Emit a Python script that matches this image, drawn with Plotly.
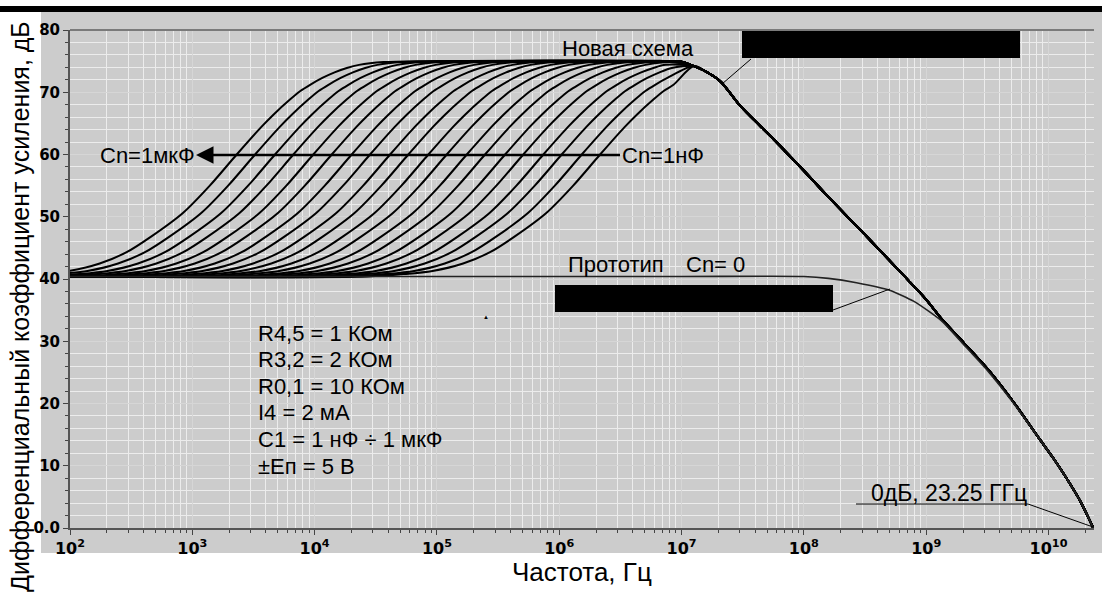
import plotly.graph_objects as go

# ---- data ----
# frequencies are kept as log10(Hz)
# new scheme, Cn = 1 uF ... 1 nF: where each curve crosses 60 dB
cross_60db = [3.363, 3.513, 3.676, 3.826, 3.989, 4.140, 4.303, 4.453, 4.617, 4.766,
              4.930, 5.080, 5.244, 5.393, 5.557, 5.706, 5.870, 6.020, 6.184, 6.334]
# rising edge (same for all curves), offset in decades from the 60 dB point
rise_offset = [-1.9, -1.6, -1.37, -1.12, -0.9, -0.7, -0.44, -0.22, 0.0, 0.2, 0.3,
               0.44, 0.52, 0.6, 0.7, 0.8, 0.9, 1.0, 1.2, 1.5]
rise_db = [40.4, 40.8, 41.3, 42.5, 44.3, 46.8, 50.6, 55.0, 60.0, 64.4, 66.4,
           68.9, 70.2, 71.2, 72.3, 73.2, 73.9, 74.4, 74.85, 75.0]
base_db = 40.4

# common high frequency roll-off of the new scheme
roll_logf = [6.9, 7.0, 7.1, 7.2, 7.32, 7.48, 7.75, 8.0, 8.19, 8.5, 8.8, 9.0, 9.13,
             9.3, 9.5, 9.7, 9.93, 10.04, 10.15, 10.26, 10.366]
roll_db = [75.0, 74.9, 74.2, 73.3, 71.7, 67.8, 62.5, 57.4, 53.4, 47.1, 40.9, 36.7, 33.5,
           29.9, 25.6, 20.6, 14.2, 11.2, 7.9, 4.3, 0.0]

# prototype, Cn = 0
proto_logf = [2.0, 7.0, 8.0, 8.2, 8.43, 8.7, 8.9, 9.13, 9.3, 9.5, 9.7, 9.93,
              10.04, 10.15, 10.26, 10.366]
proto_db = [40.4, 40.4, 40.4, 40.1, 39.4, 38.2, 36.4, 33.2, 29.6, 25.3, 20.4, 14.2,
            11.2, 7.9, 4.3, 0.0]

x_ticks = [2, 3, 4, 5, 6, 7, 8, 9, 10]
y_ticks = [0, 10, 20, 30, 40, 50, 60, 70, 80]
y_ticktext = ["0.0", "10", "20", "30", "40", "50", "60", "70", "80"]

params = ["R4,5 = 1 КОм", "R3,2 = 2 КОм", "R0,1 = 10 КОм", "I4 = 2 мА",
          "C1 = 1 нФ ÷ 1 мкФ", "±Eп = 5 В"]

W, H = 1102, 599
L, R, T, B = 70, 8, 30, 71


def px(x):
    return (x - L) / (W - L - R)


def py(y):
    return (H - B - y) / (H - T - B)


fig = go.Figure()

for c in cross_60db:
    xs, ys = [], []
    if c + rise_offset[0] > 2:
        xs.append(10 ** 2)
        ys.append(base_db)
    last = 2
    for d, g in zip(rise_offset, rise_db):
        if c + d <= 6.95:
            xs.append(10 ** (c + d))
            ys.append(g)
            last = c + d
    for lf, g in zip(roll_logf, roll_db):
        if lf >= max(6.9, last + 0.15):
            xs.append(10 ** lf)
            ys.append(g)
    fig.add_trace(go.Scatter(x=xs, y=ys, mode="lines",
                             line=dict(color="black", width=2, shape="spline", smoothing=0.8),
                             hoverinfo="skip"))

fig.add_trace(go.Scatter(x=[10 ** v for v in proto_logf], y=proto_db, mode="lines",
                         line=dict(color="#222", width=1.6, shape="spline", smoothing=0.6),
                         hoverinfo="skip"))

txt = dict(family="Liberation Sans, Arial, sans-serif", size=22, color="black")

ann = []


def label(text, x, y, size=22, anchor="left"):
    f = dict(txt)
    f["size"] = size
    ann.append(dict(text=text, x=px(x), y=py(y), xref="paper", yref="paper",
                    xanchor=anchor, yanchor="middle", showarrow=False, font=f))


label("Новая схема", 560, 48)
label("Прототип", 566, 264)
label("Cn= 0", 684, 264)
label("Cn=1мкФ", 98, 155)
label("0дБ, 23.25 ГГц", 869, 493, size=23)
for i, p in enumerate(params):
    label(p, 256, 333 + i * 26.6, size=22)
label("▲", 486, 317, size=6, anchor="center")

# arrow from Cn=1нФ to Cn=1мкФ
ann.append(dict(text="Cn=1нФ", x=px(196), y=py(155), xref="paper", yref="paper",
                ax=620 - 196, ay=0, xanchor="left", yanchor="middle",
                showarrow=True, arrowhead=2, arrowsize=1.4, arrowwidth=2.5,
                arrowcolor="black", font=txt))

# axis titles
ann.append(dict(text="Дифференциальный коэффициент усиления, дБ", textangle=-90,
                x=px(20), y=py(307), xref="paper", yref="paper",
                xanchor="center", yanchor="middle", showarrow=False,
                font=dict(family="Liberation Sans, Arial, sans-serif", size=25, color="black")))
ann.append(dict(text="Частота, Гц", x=px(582), y=py(572), xref="paper", yref="paper",
                xanchor="center", yanchor="middle", showarrow=False,
                font=dict(family="Liberation Sans, Arial, sans-serif", size=26, color="black")))

shapes = [
    # grey frame round the plot
    dict(type="rect", xref="paper", yref="paper", x0=px(41), x1=px(W), y0=py(553), y1=py(12),
         fillcolor="#cccccc", line=dict(width=0), layer="below"),
    # black bar at the top
    dict(type="rect", xref="paper", yref="paper", x0=px(0), x1=px(W), y0=py(12), y1=py(6),
         fillcolor="black", line=dict(width=0)),
    dict(type="line", xref="paper", yref="paper", x0=0, x1=1, y0=1, y1=1,
         line=dict(color="#7a7a7a", width=2)),
    # covered labels
    dict(type="rect", xref="paper", yref="paper", x0=px(742), x1=px(1020), y0=py(58), y1=py(31),
         fillcolor="black", line=dict(width=0)),
    dict(type="rect", xref="paper", yref="paper", x0=px(555), x1=px(833), y0=py(312), y1=py(285),
         fillcolor="black", line=dict(width=0)),
    # leader lines
    dict(type="line", xref="paper", yref="paper", x0=px(751), y0=py(59), x1=px(722), y1=py(84),
         line=dict(color="black", width=1)),
    dict(type="line", xref="paper", yref="paper", x0=px(833), y0=py(310), x1=px(890), y1=py(289),
         line=dict(color="black", width=1)),
    dict(type="line", xref="paper", yref="paper", x0=px(856), y0=py(504), x1=px(1028), y1=py(504),
         line=dict(color="black", width=1)),
    dict(type="line", xref="paper", yref="paper", x0=px(1028), y0=py(504), x1=px(1093), y1=py(527),
         line=dict(color="black", width=1)),
]

xfont = dict(family="DejaVu Sans, Verdana, sans-serif", size=16, color="black")
yfont = dict(family="DejaVu Sans, Verdana, sans-serif", size=15, color="black")

fig.update_layout(
    width=W, height=H,
    margin=dict(l=L, r=R, t=T, b=B),
    paper_bgcolor="white", plot_bgcolor="white",
    showlegend=False,
    annotations=ann, shapes=shapes,
    xaxis=dict(type="log", range=[2, 10.372],
               tickvals=[10 ** v for v in x_ticks],
               ticktext=["<b>10<sup>%d</sup></b>" % v for v in x_ticks],
               tickfont=xfont, ticks="outside", ticklen=5, tickcolor="#444",
               showline=True, linecolor="#555", linewidth=2,
               showgrid=True, gridcolor="#d6d6d6", gridwidth=1, zeroline=False,
               minor=dict(tickvals=[k * 10 ** n for n in range(2, 11) for k in range(2, 10)],
                          ticks="outside", ticklen=3, tickcolor="#444",
                          showgrid=True, gridcolor="#ececec")),
    yaxis=dict(range=[0, 80], tickvals=y_ticks,
               ticktext=["<b>%s</b>" % t for t in y_ticktext],
               tickfont=yfont, ticks="outside", ticklen=5, tickcolor="#444",
               showline=True, linecolor="#555", linewidth=2,
               showgrid=True, gridcolor="#d6d6d6", gridwidth=1, zeroline=False,
               minor=dict(dtick=2, ticks="outside", ticklen=3, tickcolor="#444",
                          showgrid=True, gridcolor="#ececec")),
)

# the page has an 8px body margin by default; drop it so the figure sits at 0,0
fig.write_html("out.html", config={"displayModeBar": False},
               post_script="document.body.style.margin='0px';")
